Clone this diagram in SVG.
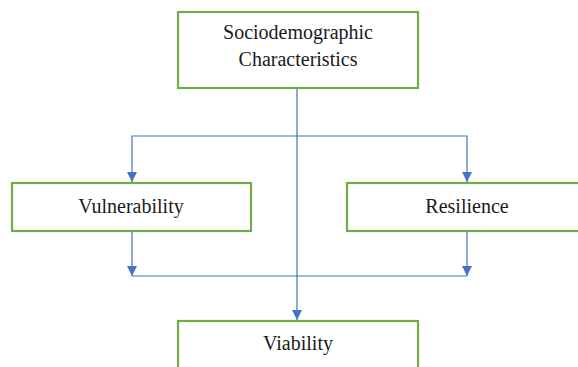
<svg xmlns="http://www.w3.org/2000/svg" width="578" height="367" viewBox="0 0 578 367">
<style>
.box{fill:#fff;stroke:#70AD47;stroke-width:2.2}
.t{font-size:20px;fill:#1a1a1a;text-anchor:middle}
.c{fill:none;stroke:#4472C4;stroke-width:1.2}
</style>
<defs>
<marker id="a" markerWidth="10" markerHeight="10" refX="10" refY="5" orient="auto" markerUnits="userSpaceOnUse">
<path d="M0,0 L10,5 L0,10 Z" fill="#4472C4"/>
</marker>
</defs>
<g id="connectors">
<line class="c" x1="297" y1="89" x2="297" y2="320" marker-end="url(#a)"/>
<polyline class="c" points="297,136 132,136 132,182" marker-end="url(#a)"/>
<polyline class="c" points="297,136 467,136 467,182" marker-end="url(#a)"/>
<line class="c" x1="132" y1="232" x2="132" y2="276" marker-end="url(#a)"/>
<line class="c" x1="467" y1="232" x2="467" y2="276" marker-end="url(#a)"/>
<line class="c" x1="132" y1="276" x2="467" y2="276"/>
</g>
<g id="sociodemographic">
<rect class="box" x="178" y="12" width="240" height="76"/>
<text class="t" font-family="Liberation Serif, DejaVu Serif, serif" x="298" y="39">Sociodemographic</text>
<text class="t" font-family="Liberation Serif, DejaVu Serif, serif" x="298" y="66">Characteristics</text>
</g>
<g id="vulnerability">
<rect class="box" x="12" y="183" width="239" height="48"/>
<text class="t" font-family="Liberation Serif, DejaVu Serif, serif" x="131" y="213">Vulnerability</text>
</g>
<g id="resilience">
<rect class="box" x="347" y="183" width="240" height="48"/>
<text class="t" font-family="Liberation Serif, DejaVu Serif, serif" x="467" y="213">Resilience</text>
</g>
<g id="viability">
<rect class="box" x="178" y="321" width="240" height="60"/>
<text class="t" font-family="Liberation Serif, DejaVu Serif, serif" x="298" y="350">Viability</text>
</g>
</svg>
